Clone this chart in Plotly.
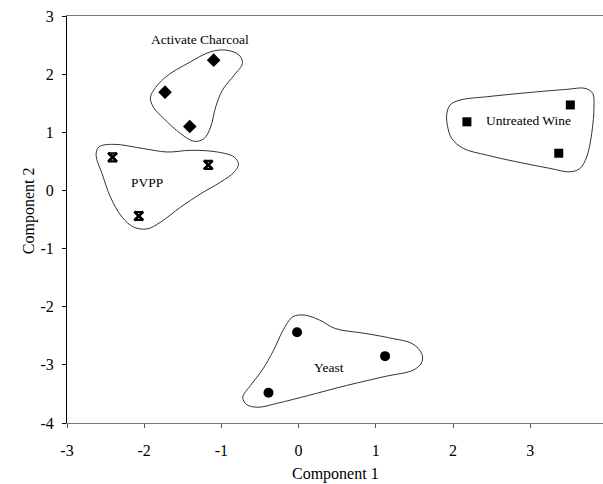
import plotly.graph_objects as go

# ---- data ----
charcoal_x = [-1.10, -1.73, -1.41]
charcoal_y = [2.24, 1.69, 1.10]
pvpp_x = [-2.41, -1.17, -2.07]
pvpp_y = [0.57, 0.44, -0.44]
wine_x = [2.18, 3.52, 3.37]
wine_y = [1.18, 1.47, 0.64]
yeast_x = [-0.02, 1.12, -0.39]
yeast_y = [-2.44, -2.85, -3.48]

# hand-drawn group outlines (data units)
charcoal_ox = [-1.918, -1.745, -1.398, -1.139, -0.944, -0.771, -0.727, -0.835, -0.987,
               -1.074, -1.139, -1.225, -1.355, -1.528, -1.745, -1.883]
charcoal_oy = [1.609, 1.925, 2.213, 2.385, 2.414, 2.328, 2.184, 1.983, 1.724,
               1.437, 1.092, 0.891, 0.845, 0.977, 1.236, 1.437]
pvpp_ox = [-2.589, -2.394, -2.004, -1.701, -1.398, -1.052, -0.835, -0.779, -0.835, -1.009,
           -1.268, -1.528, -1.788, -1.961, -2.134, -2.286, -2.437, -2.545, -2.623]
pvpp_oy = [0.747, 0.793, 0.718, 0.661, 0.690, 0.661, 0.575, 0.448, 0.316, 0.144,
           -0.057, -0.287, -0.546, -0.661, -0.632, -0.460, -0.115, 0.287, 0.603]
wine_ox = [1.918, 1.961, 2.091, 2.436, 2.955, 3.473, 3.710, 3.810, 3.826, 3.797,
           3.732, 3.645, 3.516, 3.257, 2.825, 2.436, 2.133, 1.983, 1.931]
wine_oy = [1.296, 1.468, 1.554, 1.611, 1.680, 1.738, 1.756, 1.670, 1.439, 0.981,
           0.578, 0.379, 0.320, 0.379, 0.492, 0.608, 0.723, 0.895, 1.095]
yeast_ox = [0.075, -0.075, -0.200, -0.324, -0.474, -0.623, -0.723, -0.673, -0.524, -0.274,
            0.125, 0.623, 1.122, 1.496, 1.596, 1.596, 1.471, 1.222, 0.873, 0.474, 0.274]
yeast_oy = [-2.144, -2.173, -2.403, -2.749, -3.095, -3.354, -3.556, -3.683, -3.729, -3.660,
            -3.527, -3.354, -3.199, -3.084, -2.951, -2.807, -2.634, -2.548, -2.461, -2.375, -2.231]

group_labels = ["Activate Charcoal", "PVPP", "Untreated Wine", "Yeast"]
label_x = [-1.28, -1.97, 2.98, 0.39]
label_y = [2.60, 0.13, 1.20, -3.04]

x_ticks = [-3, -2, -1, 0, 1, 2, 3]
x_ticktext = ["-3", "-2", "-1", "0", "1", "2", "3"]
y_ticks = [-4, -3, -2, -1, 0, 1, 2, 3]
y_ticktext = ["-4", "-3", "-2", "-1", "0", "1", "2", "3"]

FONT = "Liberation Serif, Times New Roman, serif"

fig = go.Figure()

for ox, oy in [(charcoal_ox, charcoal_oy), (pvpp_ox, pvpp_oy),
               (wine_ox, wine_oy), (yeast_ox, yeast_oy)]:
    fig.add_trace(go.Scatter(
        x=ox + ox[:1], y=oy + oy[:1], mode="lines",
        line=dict(color="#333333", width=1, shape="spline", smoothing=1.0),
        hoverinfo="skip", showlegend=False))

fig.add_trace(go.Scatter(x=charcoal_x, y=charcoal_y, mode="markers", name="Activate Charcoal",
                         marker=dict(symbol="diamond", size=10.5, color="black")))
fig.add_trace(go.Scatter(x=pvpp_x, y=pvpp_y, mode="markers", name="PVPP",
                         marker=dict(symbol="hourglass-open", size=8, color="black",
                                     line=dict(color="black", width=2.2))))
fig.add_trace(go.Scatter(x=pvpp_x, y=pvpp_y, mode="markers", name="PVPP",
                         hoverinfo="skip",
                         marker=dict(symbol="x-thin-open", size=9, color="black",
                                     line=dict(color="black", width=2.6))))
fig.add_trace(go.Scatter(x=wine_x, y=wine_y, mode="markers", name="Untreated Wine",
                         marker=dict(symbol="square", size=9, color="black")))
fig.add_trace(go.Scatter(x=yeast_x, y=yeast_y, mode="markers", name="Yeast",
                         marker=dict(symbol="circle", size=10, color="black")))

for t, lx, ly in zip(group_labels, label_x, label_y):
    fig.add_annotation(x=lx, y=ly, text=t, showarrow=False,
                       font=dict(family=FONT, size=13.5, color="black"))

fig.add_annotation(text="Component 1", xref="paper", yref="paper", x=0.5, y=-0.125,
                   xanchor="center", yanchor="middle", showarrow=False,
                   font=dict(family=FONT, size=16, color="black"))
fig.add_annotation(text="Component 2", xref="paper", yref="paper", x=-0.0709, y=0.523,
                   xanchor="center", yanchor="middle", textangle=-90, showarrow=False,
                   font=dict(family=FONT, size=16, color="black"))

fig.update_layout(
    width=603, height=484,
    margin=dict(l=67, r=0, t=16, b=61),
    paper_bgcolor="white", plot_bgcolor="white",
    showlegend=False,
    font=dict(family=FONT, size=16, color="black"),
)
fig.update_xaxes(range=[-3, 3.943], tickvals=x_ticks, ticktext=x_ticktext,
                 ticks="outside", ticklen=4,
                 tickcolor="#555", showline=True, linecolor="#777", linewidth=1,
                 mirror=True, showgrid=False, zeroline=False, ticklabelstandoff=9,
                 tickfont=dict(family=FONT, size=16, color="black"))
fig.update_yaxes(range=[-4, 3], tickvals=y_ticks, ticktext=y_ticktext,
                 ticks="outside", ticklen=4,
                 tickcolor="black", showline=True, linecolor="black", linewidth=1,
                 showgrid=False, zeroline=False, ticklabelstandoff=5,
                 tickfont=dict(family=FONT, size=16, color="black"))

fig.write_html("out.html")
